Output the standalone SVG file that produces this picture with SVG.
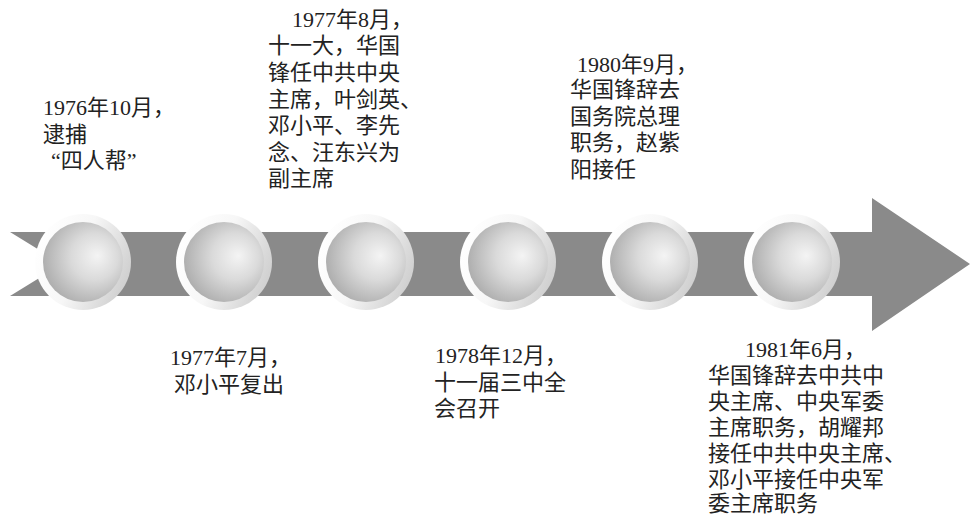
<svg xmlns="http://www.w3.org/2000/svg" width="971" height="516" viewBox="0 0 971 516">
<defs>
<radialGradient id="ball" cx="0.6" cy="0.45" r="0.65" fx="0.68" fy="0.42">
<stop offset="0" stop-color="#f4f4f4"/>
<stop offset="0.45" stop-color="#dadada"/>
<stop offset="1" stop-color="#a9a9a9"/>
</radialGradient>
<linearGradient id="ring" x1="0" y1="0.3" x2="1" y2="0.7">
<stop offset="0" stop-color="#ffffff"/>
<stop offset="0.45" stop-color="#f7f7f7"/>
<stop offset="1" stop-color="#cdcdcd"/>
</linearGradient>
</defs>
<style>
.band{fill:#8a8a8a}
.ring{fill:url(#ring)}
.ball{fill:url(#ball)}
text{font-family:"Liberation Serif","Noto Sans CJK SC",serif;font-size:22px;fill:#222}
</style>
<rect width="971" height="516" fill="#ffffff"/>
<g id="connectors">
<path class="band" d="M10,232 L872,232 L872,198 L970,264 L872,331 L872,296 L10,296 L62,264 Z"/>
</g>
<g id="node1">
<circle class="ring" cx="83" cy="262" r="48"/>
<circle class="ball" cx="83" cy="262" r="40"/>
<text x="43" y="115">1976年10月，</text>
<text x="43" y="142">逮捕</text>
<text x="51" y="168">“四人帮”</text>
</g>
<g id="node2">
<circle class="ring" cx="224" cy="262" r="48"/>
<circle class="ball" cx="224" cy="262" r="40"/>
<text x="170" y="365">1977年7月，</text>
<text x="174" y="392">邓小平复出</text>
</g>
<g id="node3">
<circle class="ring" cx="366" cy="262" r="48"/>
<circle class="ball" cx="366" cy="262" r="40"/>
<text x="292" y="27">1977年8月，</text>
<text x="268" y="53">十一大，华国</text>
<text x="268" y="80">锋任中共中央</text>
<text x="268" y="107">主席，叶剑英、</text>
<text x="268" y="133">邓小平、李先</text>
<text x="268" y="160">念、汪东兴为</text>
<text x="268" y="186">副主席</text>
</g>
<g id="node4">
<circle class="ring" cx="508" cy="262" r="48"/>
<circle class="ball" cx="508" cy="262" r="40"/>
<text x="435" y="363">1978年12月，</text>
<text x="434" y="390">十一届三中全</text>
<text x="434" y="416">会召开</text>
</g>
<g id="node5">
<circle class="ring" cx="650" cy="262" r="48"/>
<circle class="ball" cx="650" cy="262" r="40"/>
<text x="577" y="72">1980年9月，</text>
<text x="570" y="97">华国锋辞去</text>
<text x="570" y="124">国务院总理</text>
<text x="570" y="150">职务，赵紫</text>
<text x="570" y="177">阳接任</text>
</g>
<g id="node6">
<circle class="ring" cx="792" cy="262" r="48"/>
<circle class="ball" cx="792" cy="262" r="40"/>
<text x="745" y="357">1981年6月，</text>
<text x="708" y="383">华国锋辞去中共中</text>
<text x="708" y="409">央主席、中央军委</text>
<text x="708" y="435">主席职务，胡耀邦</text>
<text x="708" y="461">接任中共中央主席、</text>
<text x="708" y="487">邓小平接任中央军</text>
<text x="708" y="511">委主席职务</text>
</g>
</svg>
